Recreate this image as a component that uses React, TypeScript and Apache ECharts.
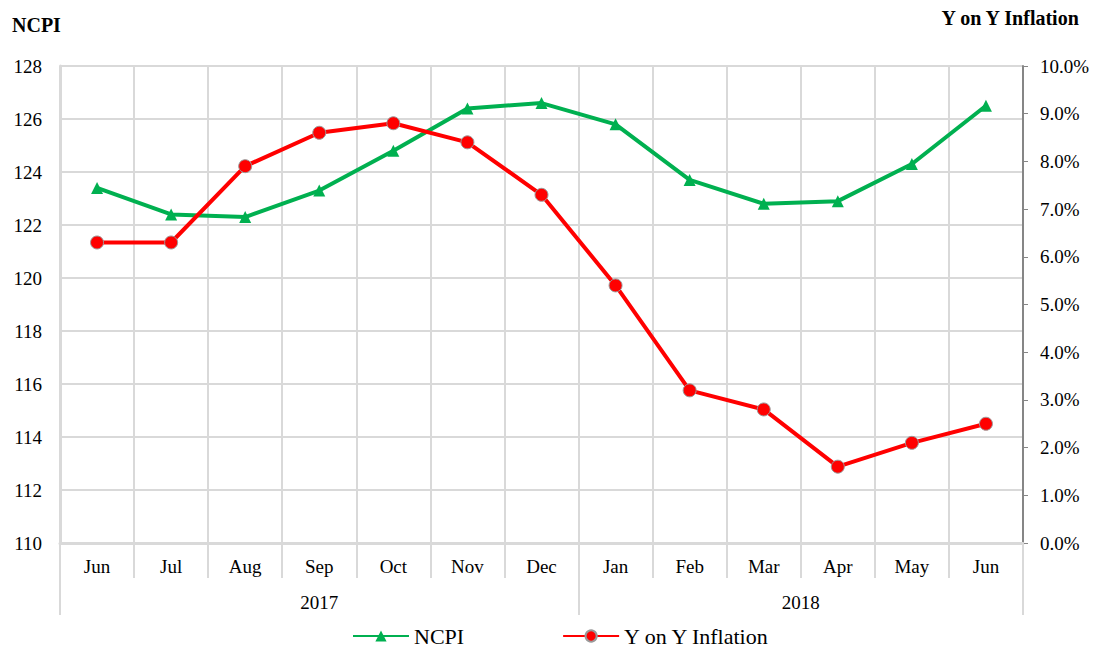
import React, { useEffect, useRef } from "react";
import * as echarts from "echarts";

const months = ["Jun", "Jul", "Aug", "Sep", "Oct", "Nov", "Dec", "Jan", "Feb", "Mar", "Apr", "May", "Jun"];
const ncpi = [123.4, 122.4, 122.3, 123.3, 124.8, 126.4, 126.6, 125.8, 123.7, 122.8, 122.9, 124.3, 126.5];
const inflation = [6.3, 6.3, 7.9, 8.6, 8.8, 8.4, 7.3, 5.4, 3.2, 2.8, 1.6, 2.1, 2.5];
const years = ["2017", "2018"];
const yearLabelPos = [3.5, 10];
const yearBounds = [0, 7, 13];

const FONT = "'Liberation Serif', 'Times New Roman', serif";
const GRID = "#d9d9d9";

export default function App() {
  const ref = useRef<HTMLDivElement>(null);
  useEffect(() => {
    if (!ref.current) return;
    const chart = echarts.init(ref.current, undefined, { renderer: "svg" });
    chart.setOption({
      animation: false,
      backgroundColor: "#ffffff",
      textStyle: { fontFamily: FONT, color: "#000" },
      title: [
        { text: "NCPI", left: 7, top: 10, textStyle: { fontFamily: FONT, fontSize: 20, fontWeight: "bold", color: "#000" } },
        { text: "Y on Y Inflation", right: 9, top: 3, textStyle: { fontFamily: FONT, fontSize: 20, fontWeight: "bold", color: "#000" } },
      ],
      grid: { left: 60, right: 72, top: 66, bottom: 106, containLabel: false },
      legend: {
        left: 347,
        top: 620,
        itemWidth: 56,
        itemHeight: 14,
        itemGap: 98,
        textStyle: { fontFamily: FONT, fontSize: 22, color: "#000" },
        data: ["NCPI", "Y on Y Inflation"],
      },
      xAxis: [
        {
          type: "category",
          data: months,
          boundaryGap: true,
          position: "bottom",
          axisLine: { show: true, lineStyle: { color: GRID, width: 3 } },
          axisTick: { show: true, interval: 0, length: 35, lineStyle: { color: GRID, width: 2 } },
          splitLine: { show: true, interval: 0, lineStyle: { color: GRID, width: 2 } },
          axisLabel: { interval: 0, margin: 14, fontSize: 19, fontFamily: FONT, color: "#000" },
        },
        {
          type: "value",
          min: 0,
          max: 13,
          position: "bottom",
          axisLine: { show: false },
          splitLine: { show: false },
          axisTick: { show: true, customValues: yearBounds, length: 72, lineStyle: { color: GRID, width: 2 } },
          axisLabel: {
            show: true,
            customValues: yearLabelPos,
            margin: 50,
            fontSize: 19,
            fontFamily: FONT,
            color: "#000",
            formatter: (v: number) => {
              const i = yearLabelPos.indexOf(v);
              return i >= 0 ? years[i] : "";
            },
          },
        },
      ],
      yAxis: [
        {
          type: "value",
          min: 110,
          max: 128,
          interval: 2,
          position: "left",
          axisLine: { show: true, lineStyle: { color: GRID, width: 3 } },
          axisTick: { show: false },
          splitLine: { show: true, lineStyle: { color: GRID, width: 2 } },
          axisLabel: { margin: 18, fontSize: 19, fontFamily: FONT, color: "#000" },
        },
        {
          type: "value",
          min: 0,
          max: 10,
          interval: 1,
          position: "right",
          axisLine: { show: true, lineStyle: { color: "#868686", width: 2 } },
          axisTick: { show: true, length: 5, lineStyle: { color: "#868686", width: 1 } },
          splitLine: { show: false },
          axisLabel: {
            margin: 17,
            fontSize: 19,
            fontFamily: FONT,
            color: "#000",
            formatter: (v: number) => v.toFixed(1) + "%",
          },
        },
      ],
      series: [
        {
          name: "NCPI",
          type: "line",
          data: ncpi,
          xAxisIndex: 0,
          yAxisIndex: 0,
          symbol: "triangle",
          symbolSize: 12,
          lineStyle: { color: "#00b050", width: 4 },
          itemStyle: { color: "#00b050" },
        },
        {
          name: "Y on Y Inflation",
          type: "line",
          data: inflation,
          xAxisIndex: 0,
          yAxisIndex: 1,
          symbol: "circle",
          symbolSize: 13,
          lineStyle: { color: "#ff0000", width: 4 },
          itemStyle: { color: "#ff0000", borderColor: "#9a9a9a", borderWidth: 1 },
        },
      ],
    });
    return () => chart.dispose();
  }, []);
  return <div ref={ref} style={{ width: 1095, height: 649, position: "absolute", left: 0, top: 0 }} />;
}
